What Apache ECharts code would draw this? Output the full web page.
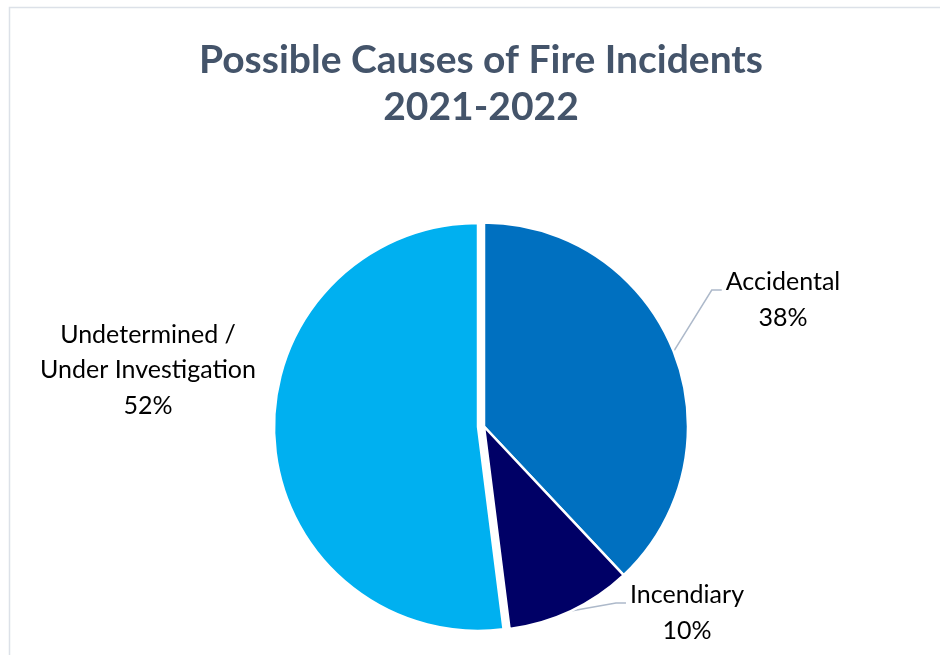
<!DOCTYPE html>
<html>
<head>
<meta charset="utf-8">
<style>
  html, body { margin: 0; padding: 0; background: #ffffff; }
  #chart { width: 940px; height: 655px; }
</style>
<script src="https://cdn.jsdelivr.net/npm/echarts@6/dist/echarts.min.js"></script>
</head>
<body>
<div id="chart"></div>
<script>
// Causes of fire incidents, share of all incidents (%)
const causes = ['Accidental', 'Incendiary', 'Undetermined /\nUnder Investigation'];
const shares = [38, 10, 52];
const sliceColors = ['#0070C0', '#000066', '#00B0F0'];
const exploded = [false, false, true];

// Where each label block is centred, and whether it gets a leader line
const labelCentres = [[783, 300], [687, 613], [148, 370]];
const showLeader = [true, true, false];

const PIE_CENTRE = [484, 426.5];
const PIE_RADIUS = 204;
const EXPLODE_BY = 6;
const START_ANGLE = 90;

const LABEL_FONT = 'Lato, "Open Sans", sans-serif';

const chart = echarts.init(document.getElementById('chart'), null, { renderer: 'canvas' });

// Centre of the pie for a pulled-out slice: shift along the slice's mid-angle
function explodedCentre(index) {
  const total = shares.reduce(function (a, b) { return a + b; }, 0);
  let before = 0;
  for (let k = 0; k < index; k++) before += shares[k];
  const midFrac = (before + shares[index] / 2) / total;
  // clockwise from START_ANGLE (measured counter-clockwise from 3 o'clock)
  const ang = (START_ANGLE - midFrac * 360) * Math.PI / 180;
  return [PIE_CENTRE[0] + Math.cos(ang) * EXPLODE_BY, PIE_CENTRE[1] - Math.sin(ang) * EXPLODE_BY];
}

function placeLabel(params) {
  const i = params.dataIndex;
  const c = labelCentres[i];
  const w = params.labelRect.width;
  const out = { x: c[0], y: c[1], align: 'center', verticalAlign: 'middle' };
  if (showLeader[i] && params.labelLinePoints) {
    const start = params.labelLinePoints[0];
    const onRight = c[0] > start[0];
    const edgeX = onRight ? c[0] - w / 2 - 4 : c[0] + w / 2 + 4;
    const elbowX = onRight ? edgeX - 10 : edgeX + 10;
    const y = c[1] - 10;
    out.labelLinePoints = [start.slice(), [elbowX, y], [edgeX, y]];
  }
  return out;
}

// One pie series per placement: the slices in place, and each pulled-out slice
function pieSeries(centre, visible) {
  return {
    type: 'pie',
    center: centre,
    radius: PIE_RADIUS,
    startAngle: START_ANGLE,
    clockwise: true,
    avoidLabelOverlap: false,
    silent: true,
    emphasis: { disabled: true },
    itemStyle: { borderColor: '#ffffff', borderWidth: 2.5 },
    label: {
      show: true,
      position: 'outside',
      formatter: '{b}\n{d}%',
      fontFamily: LABEL_FONT,
      fontSize: 25,
      lineHeight: 35.5,
      color: '#000000',
      align: 'center'
    },
    labelLine: {
      show: true,
      length: 20,
      length2: 10,
      lineStyle: { color: '#ADB9CA', width: 1.5 }
    },
    labelLayout: placeLabel,
    data: causes.map(function (name, i) {
      const on = visible(i);
      return {
        name: name,
        value: shares[i],
        itemStyle: on ? { color: sliceColors[i] } : { color: 'rgba(0,0,0,0)', borderWidth: 0 },
        label: { show: on },
        labelLine: { show: on && showLeader[i] }
      };
    })
  };
}

const series = [pieSeries(PIE_CENTRE, function (i) { return !exploded[i]; })];
exploded.forEach(function (isOut, i) {
  if (isOut) series.push(pieSeries(explodedCentre(i), function (j) { return j === i; }));
});

chart.setOption({
  backgroundColor: '#ffffff',
  animation: false,
  title: {
    text: 'Possible Causes of Fire Incidents\n2021-2022',
    left: 481,
    top: 36.5,
    padding: 0,
    textAlign: 'center',
    textStyle: {
      fontFamily: LABEL_FONT,
      fontWeight: 'bold',
      fontSize: 39,
      lineHeight: 47,
      color: '#44546A'
    }
  },
  graphic: [{
    type: 'rect',
    silent: true,
    shape: { x: 9.5, y: 7.5, width: 1000, height: 700 },
    style: { fill: 'none', stroke: '#DCE1E8', lineWidth: 1.5 }
  }],
  series: series
});
</script>
</body>
</html>
